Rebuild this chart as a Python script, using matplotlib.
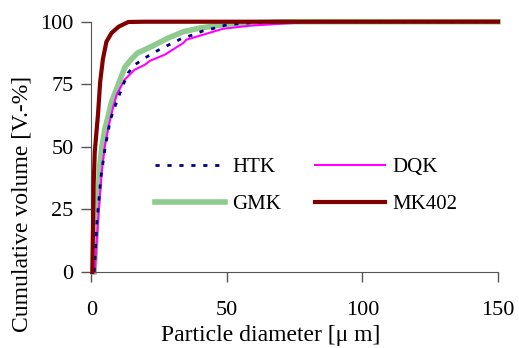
import matplotlib.pyplot as plt

plt.rcParams['font.family'] = ['Liberation Serif', 'DejaVu Serif']

# cumulative volume curves
htk_x = [1.0, 2.0, 3.5, 5.0, 7.0, 9.8, 11.7, 13.5, 16.0, 19.7, 24.6, 29.0, 33.3, 37.6, 41.3, 45.0, 50.0, 60.0, 70.0, 150.0]
htk_y = [0.0, 20.0, 38.0, 49.5, 61.0, 69.5, 74.8, 79.5, 82.8, 85.5, 88.6, 91.0, 93.3, 94.8, 96.4, 97.3, 98.8, 99.7, 100.0, 100.0]

dqk_x = [1.2, 2.5, 3.8, 4.9, 6.5, 7.9, 9.3, 12.2, 15.9, 19.7, 21.6, 27.0, 33.9, 35.0, 48.6, 58.5, 68.3, 80.0, 150.0]
dqk_y = [0.0, 22.0, 40.0, 50.0, 59.0, 65.5, 70.8, 76.8, 80.8, 82.8, 84.4, 86.8, 91.5, 92.8, 97.2, 98.4, 99.1, 99.8, 100.0]

gmk_x = [1.0, 2.2, 3.0, 3.8, 5.0, 6.1, 7.4, 9.9, 12.4, 14.7, 17.0, 22.0, 28.3, 33.9, 40.0, 50.0, 58.5, 70.0, 150.0]
gmk_y = [0.0, 26.0, 42.0, 50.0, 57.5, 62.0, 68.0, 75.0, 82.0, 85.0, 87.5, 90.0, 93.5, 96.0, 97.5, 99.0, 99.5, 100.0, 100.0]

mk_x = [0.3, 0.8, 1.2, 2.4, 3.2, 4.2, 5.5, 7.4, 10.0, 13.6, 20.0, 150.0]
mk_y = [0.0, 35.0, 48.0, 63.0, 76.0, 85.0, 92.0, 95.5, 98.0, 99.9, 100.0, 100.0]

fig = plt.figure(figsize=(5.19, 3.48), dpi=100)
ax = fig.add_axes([0.1763, 0.2184, 0.7832, 0.7192])

l_htk, = ax.plot(htk_x, htk_y, color='#000080', lw=2, dashes=(1.5, 2.8), label='HTK', zorder=4)
l_dqk, = ax.plot(dqk_x, dqk_y, color='#ff00ff', lw=1.5, label='DQK', zorder=3, clip_on=False)
l_gmk, = ax.plot(gmk_x, gmk_y, color='#8fca8f', lw=4, label='GMK', zorder=2, clip_on=False)
l_mk, = ax.plot(mk_x, mk_y, color='#800000', lw=3, label='MK402', zorder=5, clip_on=False)

ax.set_xlim(0, 150)
ax.set_ylim(0, 100)
ax.set_xticks([0, 50, 100, 150])
ax.set_yticks([0, 25, 50, 75, 100])
ax.set_xlabel('Particle diameter [μ m]', fontsize=17)
ax.set_ylabel('Cumulative volume [V.-%]', fontsize=17)
ax.xaxis.set_label_coords(0.441, -0.21)
ax.yaxis.set_label_coords(-0.144, 0.272)

for s in ['top', 'right']:
    ax.spines[s].set_visible(False)
for s in ['left', 'bottom']:
    ax.spines[s].set_color('#555555')
ax.tick_params(direction='out', length=7, width=1, color='#555555', labelsize=16)
ax.tick_params(axis='x', pad=14)
ax.tick_params(axis='y', pad=6)

# column-wise fill: HTK/GMK left, DQK/MK402 right
ax.legend([l_htk, l_gmk, l_dqk, l_mk], ['HTK', 'GMK', 'DQK', 'MK402'],
          ncol=2, frameon=False, loc='upper left', bbox_to_anchor=(0.156, 0.458),
          fontsize=15, handlelength=3.35, handletextpad=0.35, columnspacing=1.65,
          labelspacing=0.86, borderpad=0, borderaxespad=0)

fig.savefig('out.png', dpi=100)
